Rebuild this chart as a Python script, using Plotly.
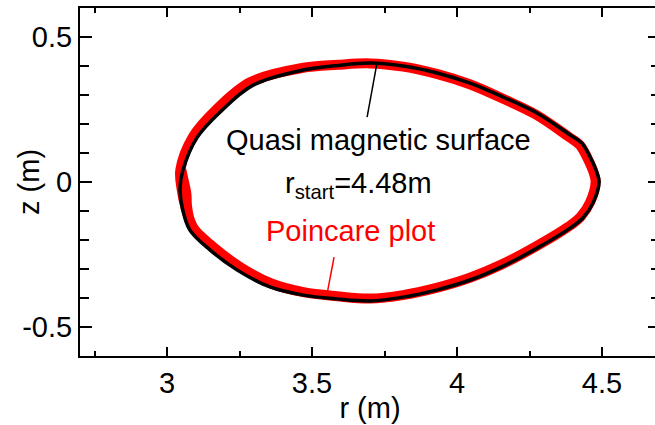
import plotly.graph_objects as go

# Quasi magnetic surface traced from r_start = 4.48 m (r, z in metres)
surf_r = [4.490, 4.483, 4.459, 4.431, 4.390, 4.276, 4.159, 4.045, 3.931, 3.814,
          3.700, 3.590, 3.469, 3.297, 3.183, 3.103, 3.055, 3.045, 3.052, 3.079,
          3.148, 3.241, 3.355, 3.469, 3.586, 3.700, 3.814, 3.931, 4.045, 4.159,
          4.276, 4.390, 4.434, 4.469, 4.490]
surf_z = [0.000, 0.031, 0.086, 0.134, 0.162, 0.238, 0.293, 0.341, 0.376, 0.400,
          0.410, 0.402, 0.386, 0.334, 0.241, 0.152, 0.041, -0.020, -0.086, -0.166,
          -0.234, -0.303, -0.362, -0.390, -0.403, -0.410, -0.397, -0.372, -0.338, -0.290,
          -0.228, -0.159, -0.124, -0.072, 0.000]

# Poincare puncture band (main strand)
poin_r = [4.478, 4.472, 4.450, 4.423, 4.385, 4.273, 4.157, 4.044, 3.930, 3.814,
          3.700, 3.589, 3.465, 3.288, 3.170, 3.090, 3.046, 3.050, 3.064, 3.092,
          3.160, 3.249, 3.360, 3.471, 3.587, 3.700, 3.813, 3.929, 4.042, 4.155,
          4.271, 4.383, 4.426, 4.459, 4.478]
poin_z = [0.000, 0.030, 0.082, 0.128, 0.156, 0.232, 0.288, 0.337, 0.373, 0.398,
          0.409, 0.404, 0.393, 0.345, 0.250, 0.157, 0.042, -0.022, -0.088, -0.160,
          -0.224, -0.291, -0.350, -0.380, -0.394, -0.402, -0.390, -0.365, -0.331, -0.284,
          -0.223, -0.155, -0.120, -0.070, 0.000]

# Inner spread of punctures on the inboard side
poin2_r = [3.054, 3.064, 3.072, 3.074, 3.082, 3.100]
poin2_z = [0.045, 0.000, -0.040, -0.080, -0.125, -0.168]

# Leader lines for the two labels (tip on curve, end at label)
lead_surf_r = [3.724, 3.690]
lead_surf_z = [0.410, 0.224]
lead_poin_r = [3.576, 3.552]
lead_poin_z = [-0.259, -0.386]

x_ticks = [3, 3.5, 4, 4.5]
x_labels = ["3", "3.5", "4", "4.5"]
y_ticks = [-0.5, 0, 0.5]
y_labels = ["-0.5", "0", "0.5"]

FONT = "Liberation Sans, Arial, sans-serif"
FS = 29

fig = go.Figure()
fig.add_trace(go.Scatter(x=poin_r, y=poin_z, mode="lines",
                         line=dict(color="#ff0000", width=10, shape="spline"),
                         hoverinfo="skip"))
fig.add_trace(go.Scatter(x=poin2_r, y=poin2_z, mode="lines",
                         line=dict(color="#ff0000", width=7, shape="spline"),
                         hoverinfo="skip"))
fig.add_trace(go.Scatter(x=surf_r, y=surf_z, mode="lines",
                         line=dict(color="#000000", width=3.5, shape="spline"),
                         hoverinfo="skip"))
fig.add_trace(go.Scatter(x=lead_surf_r, y=lead_surf_z, mode="lines",
                         line=dict(color="#000000", width=1.5)))
fig.add_trace(go.Scatter(x=lead_poin_r, y=lead_poin_z, mode="lines",
                         line=dict(color="#ff0000", width=1.5)))

fig.add_annotation(x=3.728, y=0.145, xref="x", yref="y", showarrow=False,
                   text="Quasi magnetic surface",
                   font=dict(family=FONT, size=FS, color="#000000"))
fig.add_annotation(x=3.660, y=-0.010, xref="x", yref="y", showarrow=False,
                   text="r<sub>start</sub>=4.48m",
                   font=dict(family=FONT, size=FS, color="#000000"))
fig.add_annotation(x=3.634, y=-0.169, xref="x", yref="y", showarrow=False,
                   text="Poincare plot",
                   font=dict(family=FONT, size=FS, color="#ff0000"))

# Vertical axis title, placed close to the tick labels
fig.add_annotation(x=-0.088, y=0.0, xref="paper", yref="y", showarrow=False,
                   text="z (m)", textangle=-90, xanchor="center", yanchor="middle",
                   font=dict(family=FONT, size=FS, color="#000000"))

axis_common = dict(
    showgrid=False, zeroline=False, showline=True, linecolor="#000000",
    linewidth=2, mirror="ticks", ticks="inside", tickcolor="#000000",
    tickwidth=1.5, tickfont=dict(family=FONT, size=FS, color="#000000"),
    tickmode="array",
)

fig.update_xaxes(
    **axis_common, range=[2.7, 4.7], tickvals=x_ticks, ticktext=x_labels,
    ticklen=9,
    minor=dict(tickmode="linear", tick0=0, dtick=0.25, ticks="inside",
               ticklen=5, tickwidth=1.5, tickcolor="#000000"),
    title=dict(text="r (m)", font=dict(family=FONT, size=FS, color="#000000"),
               standoff=0),
)
fig.update_yaxes(
    **axis_common, range=[-0.6, 0.6], tickvals=y_ticks, ticktext=y_labels,
    ticklen=12,
    minor=dict(tickmode="linear", tick0=0, dtick=0.1, ticks="inside",
               ticklen=9, tickwidth=1.5, tickcolor="#000000"),
)

fig.update_layout(
    width=664, height=425,
    margin=dict(l=80, r=2, t=8, b=69),
    paper_bgcolor="#ffffff", plot_bgcolor="#ffffff",
    showlegend=False,
)

fig.write_html(
    "out.html",
    post_script="document.documentElement.style.overflow='hidden';"
                "document.body.style.overflow='hidden';",
)
